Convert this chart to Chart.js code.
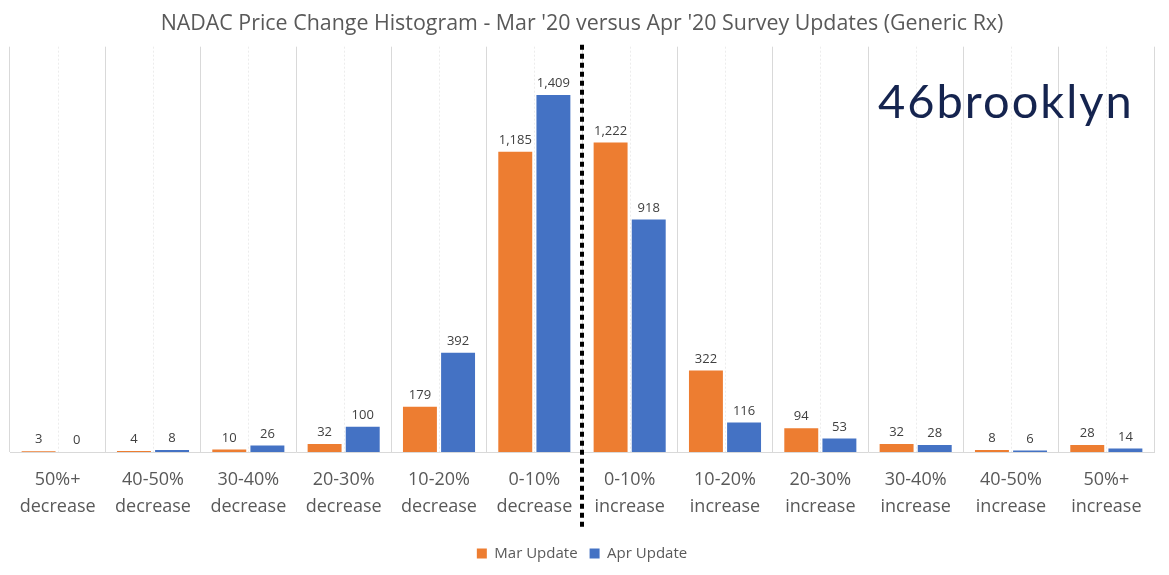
<!DOCTYPE html>
<html>
<head>
<meta charset="utf-8">
<script src="https://cdn.jsdelivr.net/npm/chart.js@4.4.0/dist/chart.umd.min.js"></script>
<style>
html,body{margin:0;padding:0;background:#fff;}
#wrap{width:1169px;height:575px;}
</style>
</head>
<body>
<div id="wrap"><canvas id="c" width="1169" height="575"></canvas></div>
<script>
const categories = [
  ['50%+','decrease'], ['40-50%','decrease'], ['30-40%','decrease'], ['20-30%','decrease'],
  ['10-20%','decrease'], ['0-10%','decrease'], ['0-10%','increase'], ['10-20%','increase'],
  ['20-30%','increase'], ['30-40%','increase'], ['40-50%','increase'], ['50%+','increase']
];
const marUpdate = [3, 4, 10, 32, 179, 1185, 1222, 322, 94, 32, 8, 28];
const aprUpdate = [0, 8, 26, 100, 392, 1409, 918, 116, 53, 28, 6, 14];
const titleText = "NADAC Price Change Histogram - Mar '20 versus Apr '20 Survey Updates (Generic Rx)";
const logoText = "46brooklyn";

const FONT = "'Open Sans', 'Noto Sans', sans-serif";

const extras = {
  id: 'extras',
  beforeDatasetsDraw(chart) {
    const {ctx, chartArea, scales: {x}} = chart;
    ctx.save();
    ctx.strokeStyle = '#ececec';
    ctx.lineWidth = 1;
    ctx.setLineDash([2, 2]);
    for (let i = 0; i < categories.length; i++) {
      const px = Math.round(x.getPixelForValue(i)) + 0.5;
      ctx.beginPath();
      ctx.moveTo(px, chartArea.top);
      ctx.lineTo(px, chartArea.bottom);
      ctx.stroke();
    }
    ctx.restore();
  },
  afterDatasetsDraw(chart) {
    const {ctx, chartArea, scales: {x}} = chart;
    ctx.save();
    // value labels
    ctx.font = "13px " + FONT;
    ctx.fillStyle = '#404040';
    ctx.textAlign = 'center';
    ctx.textBaseline = 'bottom';
    chart.data.datasets.forEach((ds, di) => {
      const meta = chart.getDatasetMeta(di);
      meta.data.forEach((bar, i) => {
        ctx.fillText(ds.data[i].toLocaleString('en-US'), bar.x, bar.y - 5);
      });
    });
    // divider dotted line
    const mx = (x.getPixelForValue(5) + x.getPixelForValue(6)) / 2;
    ctx.strokeStyle = '#000';
    ctx.lineWidth = 4;
    ctx.setLineDash([5, 4]);
    ctx.beginPath();
    ctx.moveTo(mx, chartArea.top - 2);
    ctx.lineTo(mx, 530);
    ctx.stroke();
    ctx.setLineDash([]);
    // logo
    ctx.font = "400 47px Lato, 'Open Sans', sans-serif";
    ctx.fillStyle = '#15244f';
    ctx.textAlign = 'left';
    ctx.textBaseline = 'alphabetic';
    if ('letterSpacing' in ctx) ctx.letterSpacing = '2px';
    ctx.fillText(logoText, 878, 118);
    ctx.restore();
  }
};

new Chart(document.getElementById('c'), {
  type: 'bar',
  data: {
    labels: categories,
    datasets: [
      {label: 'Mar Update', data: marUpdate, backgroundColor: '#ed7d31', categoryPercentage: 0.8, barPercentage: 0.89},
      {label: 'Apr Update', data: aprUpdate, backgroundColor: '#4472c4', categoryPercentage: 0.8, barPercentage: 0.89}
    ]
  },
  options: {
    responsive: false,
    animation: false,
    devicePixelRatio: 1,
    layout: {padding: {left: 10, right: 15, top: 0, bottom: 4}},
    plugins: {
      title: {
        display: true, text: titleText, color: '#595959',
        font: {family: FONT, size: 21.4, weight: 'normal'}, padding: {top: 11, bottom: 10}
      },
      legend: {
        position: 'bottom',
        labels: {
          color: '#595959', font: {family: FONT, size: 15},
          boxWidth: 10, boxHeight: 10, padding: 12
        }
      },
      tooltip: {enabled: false}
    },
    scales: {
      x: {
        grid: {color: '#d9d9d9', offset: true, drawTicks: false},
        border: {display: true, color: '#d9d9d9'},
        ticks: {color: '#595959', font: {family: FONT, size: 18, lineHeight: 1.5}, padding: 14, maxRotation: 0, autoSkip: false}
      },
      y: {display: false, min: 0, max: 1600}
    }
  },
  plugins: [extras]
});
</script>
</body>
</html>
